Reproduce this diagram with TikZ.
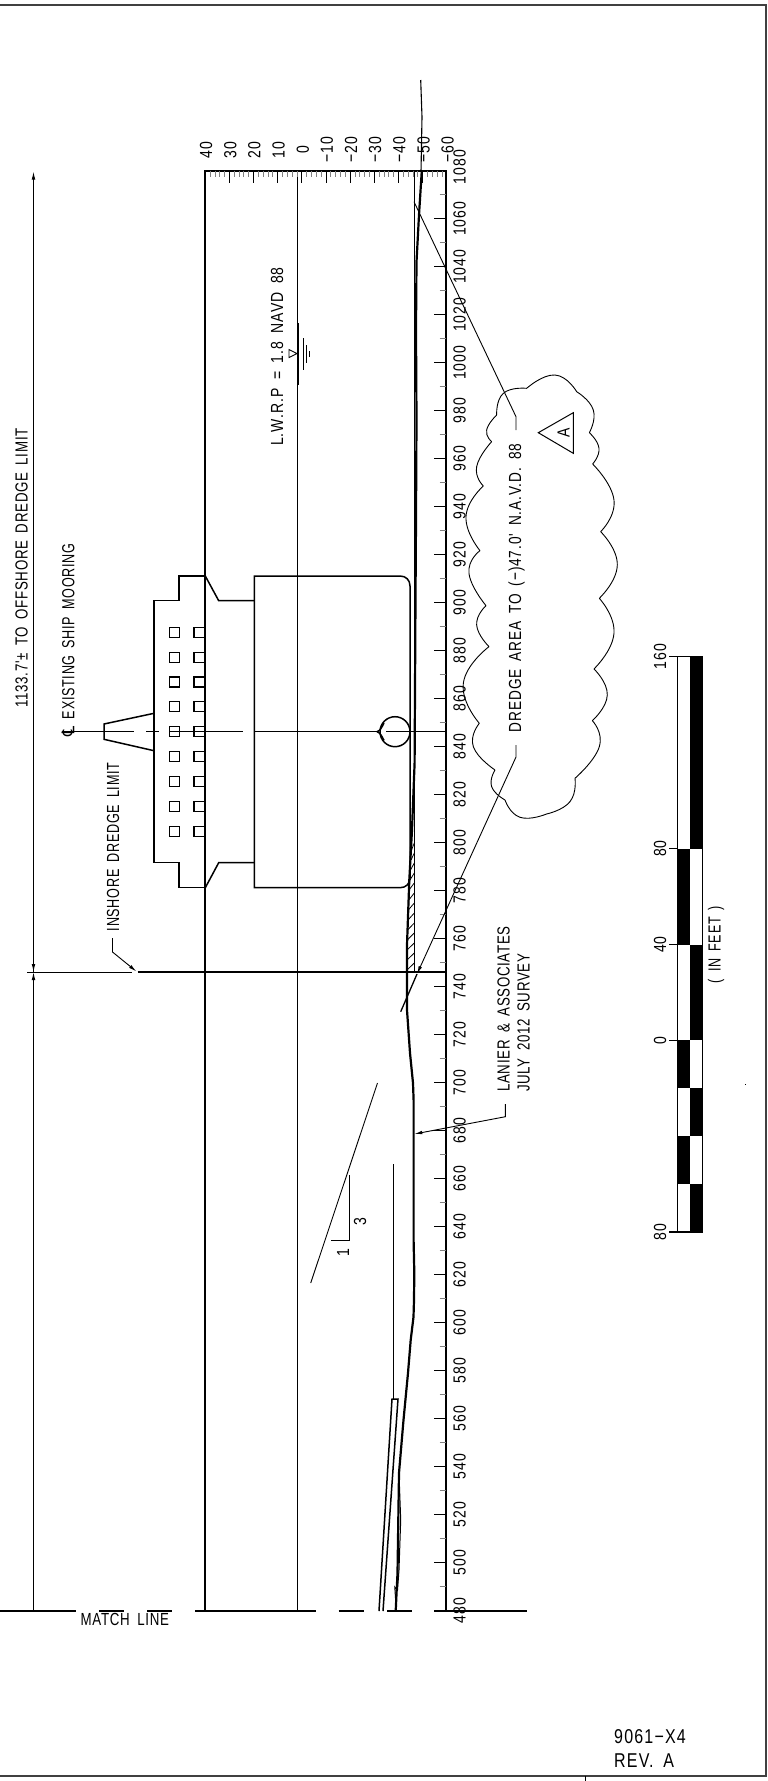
\documentclass[tikz,border=0pt]{standalone}
\usepackage{fontspec}
\setmainfont[FakeStretch=0.8,LetterSpace=6,WordSpace=1.7]{Liberation Sans}
\newfontfamily\fa[FakeStretch=0.72,LetterSpace=4,WordSpace=1.7]{Liberation Sans}
\newfontfamily\fb[FakeStretch=0.76,LetterSpace=4,WordSpace=1.7]{Liberation Sans}
\newfontfamily\fc[FakeStretch=0.78,LetterSpace=5,WordSpace=1.7]{Liberation Sans}
\newfontfamily\symfont[FakeStretch=0.9]{DejaVu Sans}
\usetikzlibrary{arrows.meta}
\newcommand{\lbl}{\fontsize{17.5}{20}\selectfont}
\newcommand{\lblb}{\fontsize{17.5}{20.5}\selectfont}
\tikzset{
  heavy/.style={line width=2pt,black},
  medium/.style={line width=1.5pt,black},
  fine/.style={line width=0.9pt,black},
  minor/.style={line width=0.9pt,black!50},
  vt/.style={rotate=90,inner sep=0pt,font=\lbl},
  vtb/.style={rotate=90,inner sep=0pt,font=\lblb},
  tip/.style={-{Latex[length=8pt,width=3.6pt]}},
}
\begin{document}
\begin{tikzpicture}[x=1pt,y=-1pt]
\useasboundingbox (0,0) rectangle (768,1781);
% sheet frame
\draw[line width=1.4pt,black!75] (0,5) -- (766,5) -- (766,1776) -- (0,1776);
\draw[line width=1pt] (585,1776) -- (585,1781);
% section box
\draw[heavy] (205.3,1611) -- (205.3,170.7) -- (446,170.7) -- (446,1611);
\draw[fine] (297.5,170.7) -- (297.5,1611);
% top axis ticks
\foreach \k in {0,...,50}{ \pgfmathsetmacro{\xx}{205.3+\k*4.83}
  \draw[minor] (\xx,170.7) -- (\xx,177); }
\foreach \e/\t [evaluate=\e as \xx using 205.3+(40-\e)*2.416] in {40/40,30/30,20/20,10/10,0/0,-10/−10,-20/−20,-30/−30,-40/−40,-50/−50,-60/−60}{
  \draw[fine,line width=1pt] (\xx,170.7) -- (\xx,183);
  \node[vt] (elev\e) at (\xx+0.8,150) {\t};
}
% station ticks and labels
\foreach \s [evaluate=\s as \yy using 602.7+(900-\s)*2.4] in {480,500,...,1060}{
  \draw[medium] (434,\yy) -- (446,\yy);
  \node[vt] (st\s) at (459.5,\yy) {\s};
}
\node[vt] (st1080) at (459.5,167) {1080};
\foreach \s [evaluate=\s as \yy using 602.7+(900-\s)*2.4] in {490,510,...,1070}{
  \draw[minor] (439.5,\yy) -- (446,\yy);
}
% match line
\foreach \a/\b in {0/76,99/124,147/172,195/316,338.6/364,387/412,434/527}{
  \draw[line width=2.2pt] (\a,1611) -- (\b,1611);
}
\node[inner sep=0pt,anchor=north west,font=\lbl\fb] (match) at (80.5,1613) {MATCH LINE};
% dimension line
\coordinate (dimtop) at (33.5,171.5);
\coordinate (dimlim) at (33.5,972);
\coordinate (dimbot) at (33.5,1611);
\draw[fine,tip] (dimlim) -- (dimtop);
\draw[medium] (33.5,281) -- (33.5,301);
\draw[fine,tip] (dimbot) -- (dimlim);
\draw[fine,tip] (33.5,940) -- (dimlim);
\draw[fine] (27,972) -- (132,972);
\draw[heavy] (137.5,972) -- (446,972);
\node[vtb,font=\lblb\fb] (offs) at (21.5,568) {1133.7'± TO OFFSHORE DREDGE LIMIT};
\node[vtb,font=\lblb\fa] (insh) at (113,847) {INSHORE DREDGE LIMIT};
\coordinate (ina) at (112.5,938);
\coordinate (inb) at (112.5,952);
\coordinate (inc) at (136.5,971.5);
\draw[fine,tip] (ina) -- (inb) -- (inc);
\node[vtb,font=\lblb\fa] (moor) at (68,640) {{\symfont ℄} EXISTING SHIP MOORING};
% ship
\draw[medium,line join=miter] (205.3,576) -- (179,576) -- (179,600.7) -- (154,600.7) -- (154,862.7) -- (179,862.7) -- (179,887.7) -- (205.3,887.7);
\draw[medium] (154,713.3) -- (104,724) -- (104,739.3) -- (154,750.7);
\draw[medium] (205.3,576) -- (218.7,600.7) -- (254.3,600.7);
\draw[medium] (205.3,887.7) -- (218.7,862.7) -- (254.3,862.7);
\draw[medium] (254.3,576) -- (400,576) .. controls (406,576) and (410,580) .. (410,586) -- (410,877.7) .. controls (410,883.7) and (406,887.7) .. (400,887.7) -- (254.3,887.7) -- cycle;
\draw[medium] (254.3,731.7) -- (377,731.7);
\draw[medium] (377,731.7) .. controls (380,731) and (382,727) .. (384,723);
\draw[medium] (377,731.7) .. controls (380,732.4) and (382,736.4) .. (384,740.4);
\draw[medium] (395,731.7) circle[radius=15];
\draw[fine] (386,731.7) -- (446,731.7);
\foreach \a/\b in {62/134,146/159,169/243}{ \draw[fine] (\a,731.7) -- (\b,731.7); }
\foreach \yy in {632.3,657.3,682,706.7,731.7,756.7,781.7,806.7,831.7}{
  \draw[medium] (169.3,\yy-5) rectangle (179.3,\yy+5);
  \draw[medium] (194,\yy-5) rectangle (204.5,\yy+5);
}
% design and existing grade
\draw[medium] (414.3,170.7) -- (414.3,972);
\draw[line width=2.2pt,line join=round] (421.7,172) -- (419,215) -- (416.5,262) -- (416,330) -- (416.5,420) -- (416,520) -- (415.5,600) -- (414.6,763) -- (412,830) -- (409.3,880) -- (407,945) -- (407,1010) -- (410,1053) -- (413,1083) -- (413.6,1100) -- (413.6,1240) -- (414.3,1273) -- (414,1300) -- (413.5,1317) -- (410.7,1340) -- (408,1373) -- (403.5,1420) -- (399,1473) -- (397.5,1573) -- (395.7,1611);
\draw[line width=1.1pt] (420.7,80) -- (422,117) -- (421,172);
\draw[line width=1pt] (399,1473) -- (400.7,1520) -- (399,1570) -- (397.5,1590) -- (394.8,1587) -- (396,1606);
\foreach \yy/\xx in {845/411.5,855/411,865/410.5,875/410,885/409,895/408.8,905/408.3,915/408,925/407.6,935/407.2,945/407,955/407,965/407}{
  \draw[line width=0.8pt] (\xx,\yy+5) -- (414.3,\yy-2);
}
% fill and wharf lines
\draw[fine] (393,1164) -- (393,1399);
\draw[medium,line join=miter] (379,1611) -- (392,1399) -- (398,1399) -- (383,1611);
% slope
\draw[fine] (377.5,1083) -- (310.7,1283);
\draw[fine] (349,1175) -- (349,1240.5);
\draw[medium] (331,1240.5) -- (349,1240.5);
\node[vt] (three) at (360,1222) {3};
\node[vt] (one) at (343,1252.5) {1};
% water level symbol
\node[vtb] (lwrp) at (277,356.6) {L.W.R.P = 1.8 NAVD 88};
\draw[medium] (298.5,323) -- (298.5,385);
\draw[fine] (303,338) -- (303,370);
\draw[fine] (306.5,345) -- (306.5,363);
\draw[fine] (309.5,351) -- (309.5,357);
\draw[fine] (289,349.5) -- (289,357.5) -- (297,353.5) -- cycle;
% lanier
\node[vtb,anchor=west,font=\lblb\fb] (lanier) at (503.5,1092) {LANIER \& ASSOCIATES};
\node[vtb,anchor=west,font=\lblb\fb] (july) at (523.5,1092) {JULY 2012 SURVEY};
\coordinate (la) at (505.4,1104);
\coordinate (lb) at (505.4,1116.7);
\coordinate (lc) at (414.3,1134);
\draw[fine,tip] (la) -- (lb) -- (lc);
% dredge area callout
\node[vtb,font=\lblb\fc] (dredge) at (516.5,588) {DREDGE AREA TO (−)47.0' N.A.V.D. 88};
\coordinate (da) at (516,430);
\coordinate (db) at (516,416.7);
\coordinate (dc) at (414,201.7);
\draw[fine] (da) -- (db) -- (dc);
\coordinate (ea) at (516,745);
\coordinate (eb) at (516,757);
\coordinate (ec) at (417,974);
\coordinate (ed) at (400.7,1011.7);
\draw[fine,tip] (ea) -- (eb) -- (ec);
\draw[line width=1.3pt] (ec) -- (ed);
% cloud
\begin{scope}[shift={(380,360)},x=0.3333pt,y=-0.3333pt]
\draw[fine,line join=miter]
  plot[smooth,tension=0.9] coordinates {(440,85)(525,45)(590,95)}
  plot[smooth,tension=0.9] coordinates {(590,95)(640,150)(628,218)}
  plot[smooth,tension=0.9] coordinates {(628,218)(657,265)(638,312)}
  plot[smooth,tension=0.9] coordinates {(638,312)(702,420)(662,515)}
  plot[smooth,tension=0.9] coordinates {(662,515)(712,615)(658,715)}
  plot[smooth,tension=0.9] coordinates {(658,715)(702,820)(642,927)}
  plot[smooth,tension=0.9] coordinates {(642,927)(682,1005)(637,1082)}
  plot[smooth,tension=0.9] coordinates {(637,1082)(658,1160)(585,1255)}
  plot[smooth,tension=0.9] coordinates {(585,1255)(570,1325)(500,1362)}
  plot[smooth,tension=0.9] coordinates {(500,1362)(420,1372)(375,1320)}
  plot[smooth,tension=0.9] coordinates {(375,1320)(335,1280)(345,1230)}
  plot[smooth,tension=0.9] coordinates {(345,1230)(280,1160)(298,1090)}
  plot[smooth,tension=0.9] coordinates {(298,1090)(250,970)(327,860)}
  plot[smooth,tension=0.9] coordinates {(327,860)(290,795)(318,737)}
  plot[smooth,tension=0.9] coordinates {(318,737)(267,640)(300,572)}
  plot[smooth,tension=0.9] coordinates {(300,572)(258,470)(310,378)}
  plot[smooth,tension=0.9] coordinates {(310,378)(290,320)(335,245)}
  plot[smooth,tension=0.9] coordinates {(335,245)(320,210)(350,165)}
  plot[smooth,tension=0.9] coordinates {(350,165)(370,100)(440,85)};
\end{scope}
\draw[line width=1pt] (538.3,432.7) -- (573.3,412.7) -- (573.3,453.3) -- cycle;
\node[vt] (rev) at (563.5,433) {A};
% scale bar
\foreach \ya/\yb/\fl/\fr in {656.7/848.6/white/black,848.6/944.5/black/white,944.5/1040.4/white/black,1040.4/1088/black/white,1088/1136/white/black,1136/1184/black/white,1184/1232/white/black}{
  \fill[\fl] (677.3,\ya) rectangle (689.8,\yb);
  \fill[\fr] (689.8,\ya) rectangle (702.3,\yb);
}
\draw[medium] (677.3,656.7) rectangle (702.3,1232);
\foreach \yy/\t in {656.7/160,848.6/80,944.5/40,1040.4/0,1232/80}{
  \draw[medium] (669.3,\yy) -- (677.3,\yy);
  \node[vt] (sc\yy) at (660,\yy) {\t};
}
\node[vt,font=\lbl\fa] (feet) at (716,944.5) {( IN FEET )};
\fill (744.5,1083.5) rectangle (746,1084.5);
% sheet number
\node[inner sep=0pt,anchor=base west,font=\fontsize{20}{24}\selectfont] (num) at (614,1743) {9061−X4};
\node[inner sep=0pt,anchor=base west,font=\fontsize{20}{24}\selectfont] (revn) at (614,1767) {REV. A};
\end{tikzpicture}
\end{document}
